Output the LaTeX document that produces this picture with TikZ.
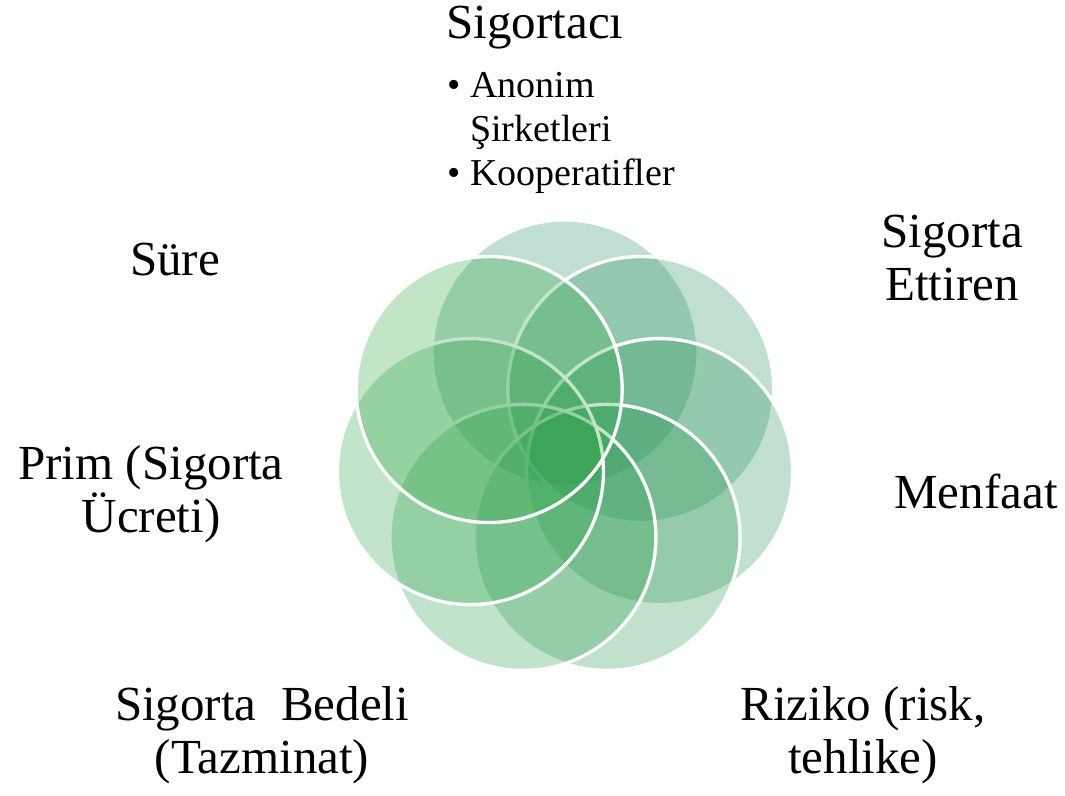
\documentclass[tikz,border=0pt]{standalone}
\usepackage{fontspec}
\setmainfont{Liberation Serif}
\definecolor{tealbase}{RGB}{40,140,100}
\definecolor{greenbase}{RGB}{45,165,65}
\tikzset{
  petal/.style={circle, draw=white, line width=2.5pt, minimum size=199.5pt, inner sep=0pt, fill opacity=0.29},
  lbl/.style={font=\fontsize{36.75}{39.75}\selectfont, align=center, inner sep=0pt},
  sublbl/.style={font=\fontsize{28.5}{33}\selectfont, align=left, inner sep=0pt}
}
\begin{document}
\begin{tikzpicture}[x=0.75pt, y=-0.75pt]
    \useasboundingbox (0,0) rectangle (1065,796);
    \coordinate (mid) at (565,450);
    \foreach \i in {1,...,7}{
      \pgfmathsetmacro\ang{-90+(\i-1)*360/7}
      \pgfmathtruncatemacro\mixp{100-(\i-1)*100/6}
      \colorlet{petalcol}{tealbase!\mixp!greenbase}
      \node[petal, fill=petalcol] (p\i) at ([shift={(\ang:97)}]mid) {};
    }
    \node[lbl, anchor=base] (sigortaci) at (535,38) {Sigortacı};
    \node[sublbl, anchor=base west] (turler) at (470,185) {\llap{\textbullet\hspace{7pt}}Anonim\\ Şirketleri\\ \llap{\textbullet\hspace{7pt}}Kooperatifler};
    \node[lbl, anchor=base] (ettiren) at (952,300) {Sigorta\\ Ettiren};
    \node[lbl, anchor=base] (menfaat) at (976,508) {Menfaat};
    \node[lbl, anchor=base] (riziko) at (863,773) {Riziko (risk,\\ tehlike)};
    \node[lbl, anchor=base] (bedel) at (262,773) {Sigorta\ \ Bedeli\\ (Tazminat)};
    \node[lbl, anchor=base] (prim) at (151,532) {Prim (Sigorta\\ Ücreti)};
    \node[lbl, anchor=base] (sure) at (175,275) {Süre};
\end{tikzpicture}
\end{document}
